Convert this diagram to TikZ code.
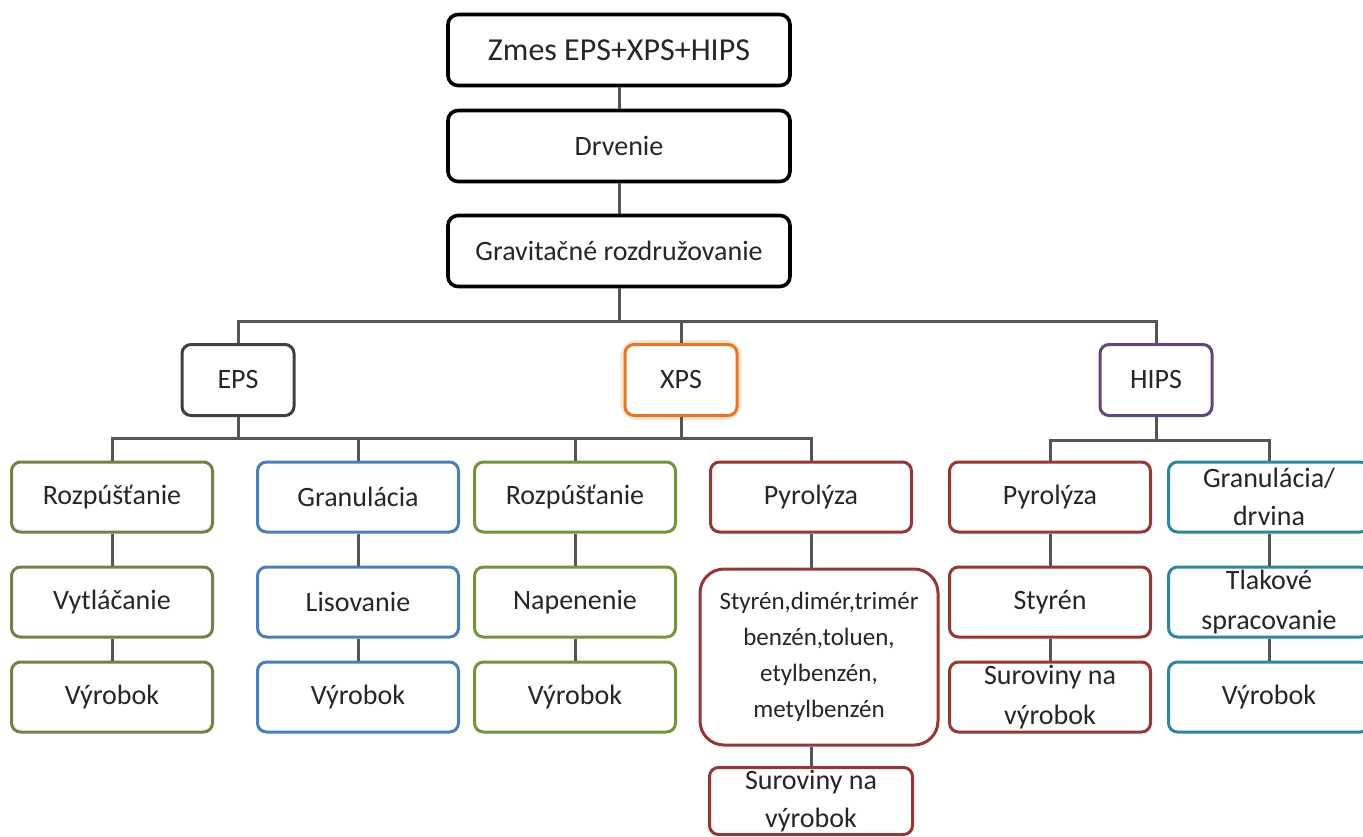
\documentclass[tikz,border=0pt]{standalone}
\usepackage{fontspec}
\setmainfont{Carlito}
\definecolor{txt}{HTML}{262626}
\definecolor{conncol}{HTML}{555555}
\definecolor{epscol}{HTML}{404040}
\definecolor{xpscol}{HTML}{E4782A}
\definecolor{xpsglow}{HTML}{FBE3CC}
\definecolor{hipscol}{HTML}{5F497A}
\definecolor{olivecol}{HTML}{7A7D45}
\definecolor{greencol}{HTML}{77933C}
\definecolor{bluecol}{HTML}{4A7EBB}
\definecolor{redcol}{HTML}{953735}
\definecolor{tealcol}{HTML}{31859C}
\begin{document}
\begin{tikzpicture}[x=1pt,y=-1pt,
  conn/.style={draw=conncol, line width=3pt},
  box/.style={draw=#1, fill=white, rounded corners=9pt, line width=3pt,
    inner sep=0pt, text=txt, align=center, font=\fontsize{28}{38}\selectfont},
  topbox/.style={draw=black, fill=white, rounded corners=10pt, line width=3.6pt,
    inner sep=0pt, text=txt, align=center, minimum width=342pt, minimum height=71pt},
  colw/.style={minimum width=201pt, minimum height=70pt}
]
\useasboundingbox (0,0) rectangle (1363,836);
\clip (0,0) rectangle (1363,836);
\fill[white] (0,0) rectangle (1363,836);

% top chain
\node[topbox, font=\fontsize{32}{38}\selectfont] (zmes) at (619,50) {Zmes EPS+XPS+HIPS};
\node[topbox, font=\fontsize{28}{34}\selectfont] (drv) at (619,146) {Drvenie};
\node[topbox, font=\fontsize{28}{34}\selectfont] (grav) at (619,251) {Gravitačné rozdružovanie};

% level 2
\node[box=epscol, minimum width=112pt, minimum height=71pt] (eps) at (238,380) {EPS};
\node[draw=xpsglow, line width=9pt, rounded corners=12pt, minimum width=112pt,
  minimum height=71pt, inner sep=0pt] (xpsg) at (681,380) {};
\node[box=xpscol, minimum width=112pt, minimum height=71pt] (xps) at (681,380) {XPS};
\node[box=hipscol, minimum width=112pt, minimum height=71pt] (hips) at (1156,380) {HIPS};

% level 3
\node[box=olivecol, colw] (rozp1) at (112,497) {Rozpúšťanie};
\node[box=bluecol, colw] (gran) at (358,497) {Granulácia};
\node[box=greencol, colw] (rozp2) at (575,497) {Rozpúšťanie};
\node[box=redcol, colw] (pyro1) at (811,497) {Pyrolýza};
\node[box=redcol, colw] (pyro2) at (1050,497) {Pyrolýza};
\node[box=tealcol, colw] (grdr) at (1269,497) {Granulácia/\\drvina};

% level 4
\node[box=olivecol, colw] (vytl) at (112,602) {Vytláčanie};
\node[box=bluecol, colw] (lis) at (358,602) {Lisovanie};
\node[box=greencol, colw] (nap) at (575,602) {Napenenie};
\node[box=redcol, rounded corners=24pt, minimum width=238pt, minimum height=176pt,
  font=\fontsize{25}{36}\selectfont] (big) at (819,657)
  {Styrén,dimér,trimér\\benzén,toluen,\\etylbenzén,\\metylbenzén};
\node[box=redcol, colw] (styr) at (1050,602) {Styrén};
\node[box=tealcol, colw, font=\fontsize{28}{40}\selectfont] (tlak) at (1269,602) {Tlakové\\spracovanie};

% level 5
\node[box=olivecol, colw] (vyr1) at (112,697) {Výrobok};
\node[box=bluecol, colw] (vyr2) at (358,697) {Výrobok};
\node[box=greencol, colw] (vyr3) at (575,697) {Výrobok};
\node[box=redcol, minimum width=203pt, minimum height=67pt] (sur1) at (811,801) {Suroviny na\\výrobok};
\node[box=redcol, colw, font=\fontsize{28}{40}\selectfont] (sur2) at (1050,697) {Suroviny na\\výrobok};
\node[box=tealcol, colw] (vyr4) at (1269,697) {Výrobok};

% connectors
\draw[conn] (zmes) -- (drv);
\draw[conn] (drv) -- (grav);
\draw[conn] (grav.south) -- (grav.south |- 0,321);
\draw[conn] (eps.north) |- (hips.north |- 0,321) -- (hips.north);
\draw[conn] (xps.north) -- (xps.north |- 0,321);

\draw[conn] (eps.south) -- (eps.south |- 0,438);
\draw[conn] (rozp1.north) |- (pyro1.north |- 0,438) -- (pyro1.north);
\draw[conn] (gran.north) -- (gran.north |- 0,438);
\draw[conn] (rozp2.north) -- (rozp2.north |- 0,438);
\draw[conn] (xps.south) -- (xps.south |- 0,438);
\draw[conn] (hips.south) -- (hips.south |- 0,440);
\draw[conn] (pyro2.north) |- (grdr.north |- 0,440) -- (grdr.north);

\draw[conn] (rozp1) -- (vytl);
\draw[conn] (vytl) -- (vyr1);
\draw[conn] (gran) -- (lis);
\draw[conn] (lis) -- (vyr2);
\draw[conn] (rozp2) -- (nap);
\draw[conn] (nap) -- (vyr3);
\draw[conn] (pyro1.south) -- (pyro1.south |- big.north);
\draw[conn] (big.south -| sur1.north) -- (sur1.north);
\draw[conn] (pyro2) -- (styr);
\draw[conn] (styr) -- (sur2);
\draw[conn] (grdr) -- (tlak);
\draw[conn] (tlak) -- (vyr4);
\end{tikzpicture}
\end{document}
